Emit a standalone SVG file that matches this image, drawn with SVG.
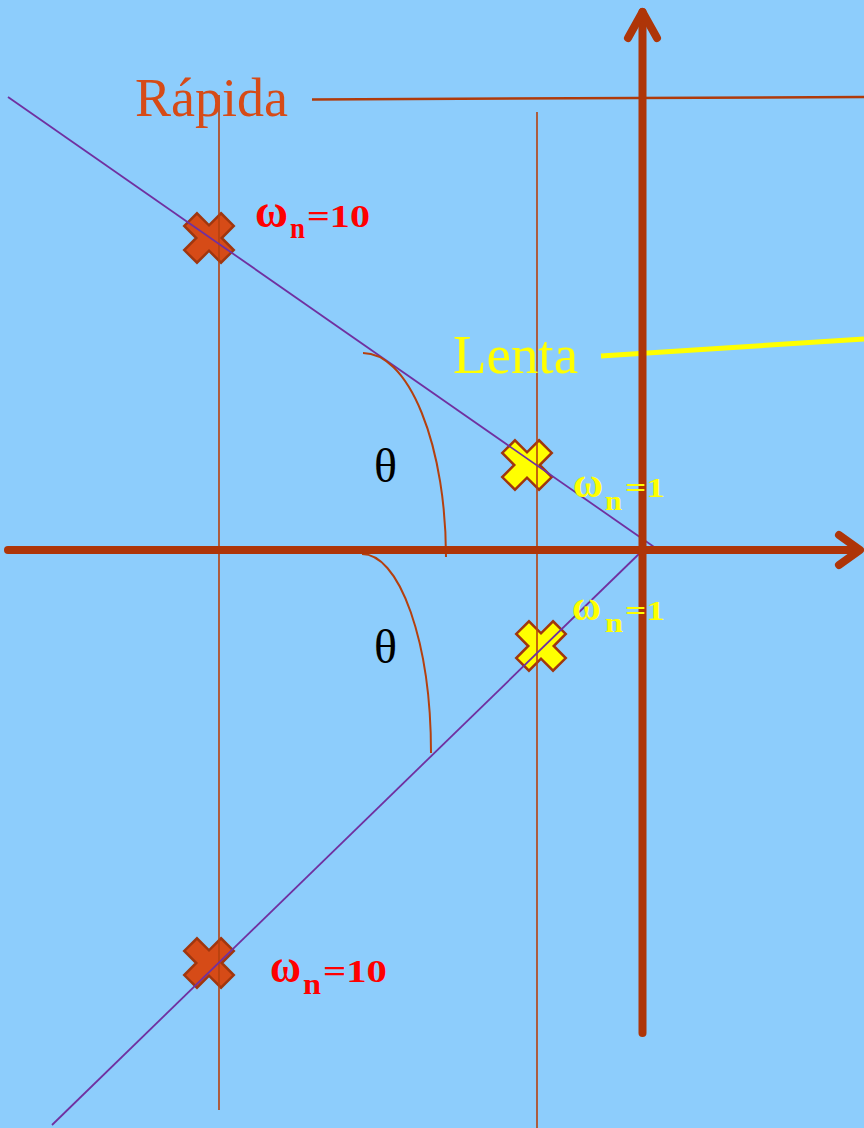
<svg xmlns="http://www.w3.org/2000/svg" width="864" height="1128" viewBox="0 0 864 1128">
<defs>
<style>
.axis{stroke:#AE3508;stroke-width:8;fill:none;stroke-linecap:round;stroke-linejoin:round}
.thin{stroke:#B5400E;stroke-width:1.6;fill:none}
.ray{stroke:#7030A0;stroke-width:1.8;fill:none}
.arc{stroke:#B5400E;stroke-width:2;fill:none}
.xr{fill:#D64B17;stroke:#A0360E;stroke-width:2.5}
.xy{fill:#FFFF00;stroke:#A0360E;stroke-width:2.5}
.lbl{font-family:"Liberation Serif","DejaVu Serif",serif}
.red{fill:#FF0000;font-weight:bold}
.yel{fill:#FFFF00;font-weight:bold}
</style>
<polygon id="xshape" points="-9,-26 9,-26 9,-9 26,-9 26,9 9,9 9,26 -9,26 -9,9 -26,9 -26,-9 -9,-9" transform="rotate(45)"/>
</defs>
<rect x="0" y="0" width="864" height="1128" fill="#8DCDFC"/>

<g id="pole-fast-upper"><use href="#xshape" class="xr" transform="translate(209,238)"/></g>
<g id="pole-fast-lower"><use href="#xshape" class="xr" transform="translate(209,963)"/></g>
<g id="pole-slow-upper"><use href="#xshape" class="xy" transform="translate(527,465)"/></g>
<g id="pole-slow-lower"><use href="#xshape" class="xy" transform="translate(541,646)"/></g>

<g id="connectors">
<line class="thin" x1="219" y1="95" x2="219" y2="1110"/>
<line class="thin" x1="537" y1="112" x2="537" y2="1128"/>
<line class="ray" x1="8" y1="97" x2="657" y2="549"/>
<line class="ray" x1="643" y1="550" x2="52" y2="1125"/>
<path class="arc" d="M363,353 A83,204 0 0 1 446,557"/>
<path class="arc" d="M362,554 A69,199 0 0 1 431,753"/>
<line x1="312" y1="99.5" x2="864" y2="97" stroke="#B03A0A" stroke-width="2.5"/>
<line x1="601" y1="356" x2="864" y2="339" stroke="#FFFF00" stroke-width="5"/>
<line class="axis" x1="8" y1="550" x2="858" y2="550" stroke-linecap="butt"/>
<polyline class="axis" points="839,535 860,550 839,565"/>
<line class="axis" x1="642.5" y1="1033" x2="642.5" y2="12" stroke-linecap="butt"/>
<polyline class="axis" points="628,38 642.5,12 657,38"/>
</g>

<g id="labels" class="lbl">
<text x="135" y="116" font-size="54" fill="#D64B17" textLength="153" lengthAdjust="spacingAndGlyphs">Rápida</text>
<text x="453" y="373" font-size="55" fill="#FFFF00" textLength="125" lengthAdjust="spacingAndGlyphs">Lenta</text>
<text x="374" y="482" font-size="48" fill="#000000">θ</text>
<text x="374" y="663" font-size="48" fill="#000000">θ</text>

<text class="red" x="255" y="227" font-size="46" textLength="33" lengthAdjust="spacingAndGlyphs">ω</text>
<text class="red" x="290" y="238" font-size="30" textLength="15" lengthAdjust="spacingAndGlyphs">n</text>
<text class="red" x="307" y="227" font-size="32" textLength="63" lengthAdjust="spacingAndGlyphs">=10</text>

<text class="red" x="270" y="982" font-size="46" textLength="31" lengthAdjust="spacingAndGlyphs">ω</text>
<text class="red" x="303" y="994" font-size="30" textLength="18" lengthAdjust="spacingAndGlyphs">n</text>
<text class="red" x="323" y="982" font-size="32" textLength="64" lengthAdjust="spacingAndGlyphs">=10</text>

<text class="yel" x="573" y="497" font-size="42" textLength="30" lengthAdjust="spacingAndGlyphs">ω</text>
<text class="yel" x="605" y="510" font-size="28" textLength="17" lengthAdjust="spacingAndGlyphs">n</text>
<text class="yel" x="625" y="497" font-size="28" textLength="40" lengthAdjust="spacingAndGlyphs">=1</text>

<text class="yel" x="572" y="620" font-size="42" textLength="29" lengthAdjust="spacingAndGlyphs">ω</text>
<text class="yel" x="605" y="632" font-size="28" textLength="18" lengthAdjust="spacingAndGlyphs">n</text>
<text class="yel" x="625" y="620" font-size="28" textLength="40" lengthAdjust="spacingAndGlyphs">=1</text>
</g>
</svg>
